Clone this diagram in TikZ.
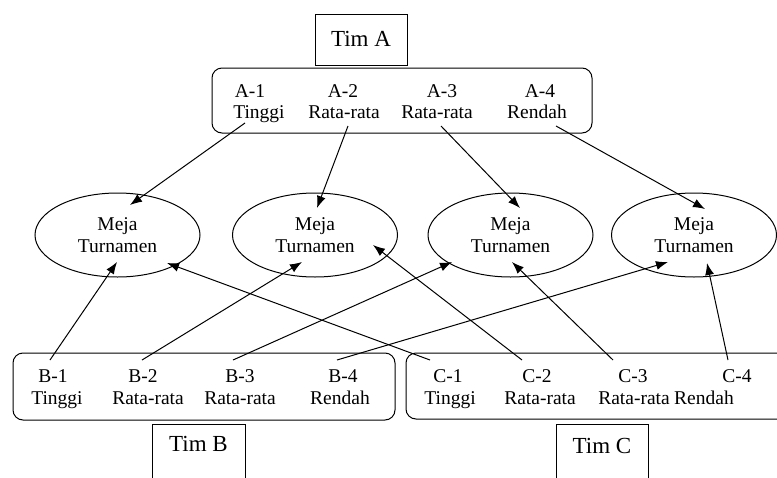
\documentclass[tikz,border=0pt]{standalone}
\usepackage{fontspec}
\setmainfont{Liberation Serif}
\usetikzlibrary{arrows.meta,shapes.geometric}
\begin{document}
\begin{tikzpicture}[x=1pt,y=-1pt,
  lbl/.style={anchor=base,inner sep=0pt,font=\fontsize{19.5}{22}\selectfont},
  title/.style={draw,line width=1pt,inner sep=0pt,minimum width=92pt,font=\fontsize{23}{26}\selectfont},
  grp/.style={draw,line width=1pt,rounded corners=10pt,inner sep=0pt},
  meja/.style={draw,ellipse,line width=1pt,inner sep=0pt,minimum width=165pt,minimum height=84pt,align=center,font=\fontsize{19.5}{22}\selectfont},
  conn/.style={line width=1pt,-{Latex[length=12pt,width=9pt]}}]
\path[fill=white,use as bounding box] (0,0) rectangle (777,477);
% team titles
\node[title,text height=32pt,text depth=19pt] (timA) at (361,40) {Tim A};
\node[title,text height=27pt,text depth=35pt,minimum width=93pt] (timB) at (198.5,455) {Tim B};
\node[title,text height=29pt,text depth=35pt] (timC) at (602,456) {Tim C};
% group boxes
\node[grp,minimum width=380pt,minimum height=65pt] (grpA) at (402,100.5) {};
\node[grp,minimum width=382pt,minimum height=67pt] (grpB) at (204,386.5) {};
\node[grp,minimum width=400pt,minimum height=66pt] (grpC) at (606,386) {};
% tables
\node[meja] (m1) at (117.5,235) {Meja\\Turnamen};
\node[meja] (m2) at (315,235) {Meja\\Turnamen};
\node[meja] (m3) at (510.5,235) {Meja\\Turnamen};
\node[meja] (m4) at (694,235) {Meja\\Turnamen};
% team A labels
\node[lbl] (a1) at (250,97) {A-1};
\node[lbl] (a1t) at (259,118) {Tinggi};
\node[lbl] (a2) at (343,97) {A-2};
\node[lbl] (a2t) at (344,118) {Rata-rata};
\node[lbl] (a3) at (442,97) {A-3};
\node[lbl] (a3t) at (437,118) {Rata-rata};
\node[lbl] (a4) at (540,97) {A-4};
\node[lbl] (a4t) at (537,118) {Rendah};
% team B labels
\node[lbl] (b1) at (53,382) {B-1};
\node[lbl] (b1t) at (57,404) {Tinggi};
\node[lbl] (b2) at (143,382) {B-2};
\node[lbl] (b2t) at (148,404) {Rata-rata};
\node[lbl] (b3) at (240,382) {B-3};
\node[lbl] (b3t) at (240,404) {Rata-rata};
\node[lbl] (b4) at (343,382) {B-4};
\node[lbl] (b4t) at (340,404) {Rendah};
% team C labels
\node[lbl] (c1) at (448,382) {C-1};
\node[lbl] (c1t) at (450,404) {Tinggi};
\node[lbl] (c2) at (537,382) {C-2};
\node[lbl] (c2t) at (540,404) {Rata-rata};
\node[lbl] (c3) at (633,382) {C-3};
\node[lbl] (c3t) at (634,404) {Rata-rata};
\node[lbl] (c4) at (737,382) {C-4};
\node[lbl] (c4t) at (704,404) {Rendah};
% connector ends
\coordinate (sa1) at (245,123); \coordinate (ta1) at (130,205);
\coordinate (sa2) at (348,126); \coordinate (ta2) at (317,208);
\coordinate (sa3) at (441,126); \coordinate (ta3) at (520,208);
\coordinate (sa4) at (556,126); \coordinate (ta4) at (705,209);
\coordinate (sb1) at (50,360);  \coordinate (tb1) at (117,262);
\coordinate (sb2) at (142,360); \coordinate (tb2) at (302,262);
\coordinate (sb3) at (233,360); \coordinate (tb3) at (452,262);
\coordinate (sb4) at (337,360); \coordinate (tb4) at (668,262);
\coordinate (sc1) at (430,360); \coordinate (tc1) at (167,263);
\coordinate (sc2) at (522,360); \coordinate (tc2) at (373,245);
\coordinate (sc3) at (613,360); \coordinate (tc3) at (512,262);
\coordinate (sc4) at (728,360); \coordinate (tc4) at (707,263);
% connectors
\draw[conn] (sa1) -- (ta1);
\draw[conn] (sa2) -- (ta2);
\draw[conn] (sa3) -- (ta3);
\draw[conn] (sa4) -- (ta4);
\draw[conn] (sb1) -- (tb1);
\draw[conn] (sb2) -- (tb2);
\draw[conn] (sb3) -- (tb3);
\draw[conn] (sb4) -- (tb4);
\draw[conn] (sc1) -- (tc1);
\draw[conn] (sc2) -- (tc2);
\draw[conn] (sc3) -- (tc3);
\draw[conn] (sc4) -- (tc4);
\end{tikzpicture}
\end{document}
